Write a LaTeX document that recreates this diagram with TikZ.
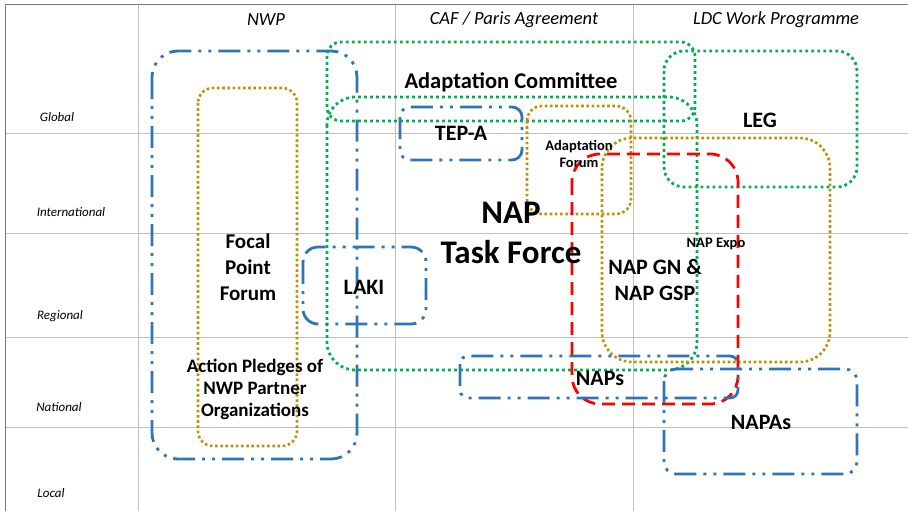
\documentclass[tikz,border=0pt]{standalone}
\usepackage{fontspec}
\setmainfont{Carlito}

\definecolor{nwpblue}{RGB}{46,117,182}
\definecolor{gold}{RGB}{191,144,0}
\definecolor{leafgreen}{RGB}{0,176,80}
\definecolor{gridgray}{RGB}{191,191,191}
\definecolor{framegray}{RGB}{120,120,120}

\tikzset{
    gridline/.style={draw=gridgray, line width=0.9pt},
    frameline/.style={draw=framegray, line width=1.8pt},
    bluebox/.style={draw=nwpblue, line width=2.8pt,
        dash pattern=on 22pt off 7pt on 3pt off 7pt on 3pt off 7pt},
    goldbox/.style={draw=gold, line width=2.6pt, dash pattern=on 2.6pt off 2.6pt},
    greenbox/.style={draw=leafgreen, line width=2.8pt, dash pattern=on 2.8pt off 3.2pt},
    redbox/.style={draw=red, line width=2.8pt, dash pattern=on 13pt off 7pt},
    levellabel/.style={font=\fontsize{13}{15}\selectfont\itshape},
    headlabel/.style={font=\fontsize{18.5}{20}\selectfont\itshape},
    boxlabel/.style={font=\fontsize{22}{26}\selectfont\bfseries, align=center},
    smalllabel/.style={font=\fontsize{14.5}{17}\selectfont\bfseries, align=center}
}

\begin{document}
\begin{tikzpicture}[x=1pt,y=-1pt]
    \useasboundingbox (0,0) rectangle (908,511);

    \draw[gridline] (6,133) -- (908,133);
    \draw[gridline] (6,233) -- (908,233);
    \draw[gridline] (6,337) -- (908,337);
    \draw[gridline] (6,427) -- (908,427);
    \draw[gridline] (138,5) -- (138,511);
    \draw[gridline] (395,5) -- (395,511);
    \draw[gridline] (633,5) -- (633,511);
    \draw[frameline] (5,4.5) -- (908,4.5);
    \draw[frameline] (5.5,4.5) -- (5.5,511);

    \node[headlabel] (nwp) at (266,20) {NWP};
    \node[headlabel] (caf) at (514,20) {CAF / Paris Agreement};
    \node[headlabel] (ldc) at (776,20) {LDC Work Programme};

    \node[levellabel] (global) at (57,117) {Global};
    \node[levellabel] (international) at (71,212) {International};
    \node[levellabel] (regional) at (60,316) {Regional};
    \node[levellabel] (national) at (59,407) {National};
    \node[levellabel] (local) at (51,493) {Local};

    \draw[bluebox, rounded corners=26pt] (152,51) rectangle (357,459);
    \draw[goldbox, rounded corners=15pt] (198,88) rectangle (297,446);
    \draw[greenbox, rounded corners=14pt] (327,42) rectangle (695,121);
    \draw[greenbox, rounded corners=28pt] (327,97) rectangle (697,370);
    \draw[bluebox, rounded corners=10pt] (400,107) rectangle (522,160);
    \draw[goldbox, rounded corners=15pt] (527,106) rectangle (631,214);
    \draw[greenbox, rounded corners=20pt] (664,51) rectangle (857,187);
    \draw[goldbox, rounded corners=30pt] (602,138) rectangle (830,362);
    \draw[redbox, rounded corners=28pt] (572,154) rectangle (738,404);
    \draw[bluebox, rounded corners=15pt] (303,247) rectangle (426,324);
    \draw[bluebox, rounded corners=8pt] (460,356) rectangle (738,398);
    \draw[bluebox, rounded corners=12pt] (664,369) rectangle (857,474);

    \node[boxlabel, font=\fontsize{22.5}{26}\selectfont\bfseries] (committee) at (511,82) {Adaptation Committee};
    \node[boxlabel] (tepa) at (461,133) {TEP-A};
    \node[boxlabel] (leg) at (760,120) {LEG};
    \node[smalllabel] (forum) at (579,154) {Adaptation\\Forum};
    \node[boxlabel, font=\fontsize{33}{40}\selectfont\bfseries] (taskforce) at (511,233) {NAP\\Task Force};
    \node[smalllabel] (expo) at (716,244) {NAP Expo};
    \node[boxlabel] (gn) at (655,280) {NAP GN \&\\NAP GSP};
    \node[boxlabel] (naps) at (600,378) {NAPs};
    \node[boxlabel] (napas) at (761,422) {NAPAs};
    \node[boxlabel, font=\fontsize{21}{26}\selectfont\bfseries] (focal) at (248,267) {Focal\\Point\\Forum};
    \node[boxlabel] (laki) at (364,287) {LAKI};
    \node[boxlabel, font=\fontsize{19}{22}\selectfont\bfseries] (pledges) at (255,389) {Action Pledges of\\NWP Partner\\Organizations};
\end{tikzpicture}
\end{document}
